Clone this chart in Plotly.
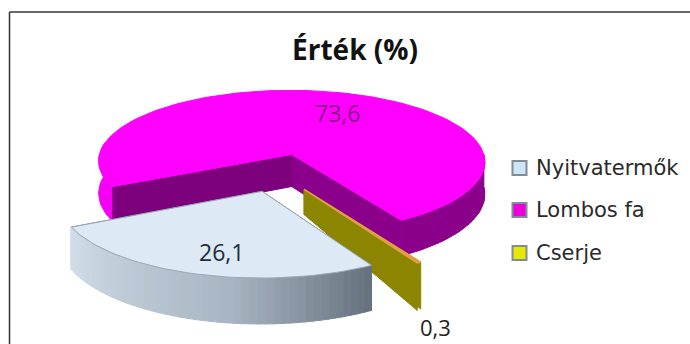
import math
import plotly.graph_objects as go

CATEGORIES = ["Nyitvatermők", "Lombos fa", "Cserje"]
VALUES = [26.1, 73.6, 0.3]
TOP_COLORS = ["#dde9f5", "#ff00ff", "#e0a040"]
LEGEND_COLORS = ["#cfe4f5", "#f000d8", "#e8e800"]
TITLE = "Érték (%)"

# Projection of the tilted pie onto the 690x344 canvas
CX, CY = 277.5, 172.5
RX, RY = 197.0, 74.0
PERSP = 0.10
EXPLODE = 0.26
FIRST_ANGLE = 150.0


def project(x, y, z=0.0, depth=(0.0, 0.0)):
    w = 1.0 / (1.0 - PERSP * y)
    wz = 1.0 / (1.0 - depth[1] * y)
    return CX + RX * x * w, CY + RY * y * w + depth[0] * z * wz


def rim(theta, offset):
    t = math.radians(theta)
    return math.sin(t) + offset[0], -math.cos(t) + offset[1]


def mix(c1, c2, f):
    a = [int(c1[i:i + 2], 16) for i in (1, 3, 5)]
    b = [int(c2[i:i + 2], 16) for i in (1, 3, 5)]
    return "rgb(%d,%d,%d)" % tuple(round(p + (q - p) * f) for p, q in zip(a, b))


def poly(fig, pts, color, line=None, width=1.0):
    fig.add_trace(go.Scatter(
        x=[p[0] for p in pts] + [pts[0][0]],
        y=[p[1] for p in pts] + [pts[0][1]],
        mode="lines", fill="toself", fillcolor=color,
        line=dict(color=line or color, width=width),
        hoverinfo="skip", showlegend=False))


# Slice angle spans, running clockwise from the first-slice angle
spans = []
start = FIRST_ANGLE
for v in VALUES:
    end = start + v * 3.6
    spans.append((start, end))
    start = end


def offset_of(span):
    mid = math.radians((span[0] + span[1]) / 2)
    return EXPLODE * math.sin(mid), -EXPLODE * math.cos(mid)


def wall(fig, span, off, depth, color, line=None):
    n = max(1, int((span[1] - span[0]) / 2))
    ts = [span[0] + (span[1] - span[0]) * i / n for i in range(n + 1)]
    upper = [project(*rim(t, off)) for t in ts]
    lower = [project(*rim(t, off), 1, depth) for t in reversed(ts)]
    poly(fig, upper + lower, color, line=line)


def faces(fig, span, off, depth, color_a, color_b):
    a, b = rim(span[0], off), rim(span[1], off)
    poly(fig, [project(*off), project(*b), project(*b, 1, depth), project(*off, 1, depth)], color_b)
    poly(fig, [project(*off), project(*a), project(*a, 1, depth), project(*off, 1, depth)], color_a)


def top(fig, span, off, color, line=None, width=1.0):
    n = max(1, int((span[1] - span[0]) / 2))
    pts = [project(*rim(span[0] + (span[1] - span[0]) * i / n, off)) for i in range(n + 1)]
    poly(fig, [project(*off)] + pts, color, line=line, width=width)


fig = go.Figure()

# Lombos fa: two cut faces, bright left wall, dark right wall
sp = spans[1]
off = offset_of(sp)
depth = (33.0, 0.12)
faces(fig, sp, off, depth, "#7d007d", "#8a008a")
wall(fig, (sp[0], 280), off, depth, "#f400f4")
wall(fig, (450, sp[1]), off, depth, "#8a008a")
top(fig, sp, off, TOP_COLORS[1])

# Cserje: the thin olive sliver
sp = spans[2]
off = offset_of(sp)
depth = (22.3, 0.486)
faces(fig, sp, off, depth, "#8c8500", "#8c8500")
top(fig, sp, off, TOP_COLORS[2], width=1.5)

# Nyitvatermők: outer wall shaded from dark (right) to light (left)
sp = spans[0]
off = offset_of(sp)
depth = (39.0, 0.12)
faces(fig, sp, off, depth, "#6d7985", "#6d7985")
steps = int((sp[1] - sp[0]) / 2)
for i in range(steps):
    t0 = sp[0] + (sp[1] - sp[0]) * i / steps
    t1 = sp[0] + (sp[1] - sp[0]) * (i + 1) / steps
    f = i / (steps - 1)
    shade = mix("#66727e", "#a8b5c2", f / 0.4) if f < 0.4 else mix("#a8b5c2", "#d0dce8", (f - 0.4) / 0.6)
    wall(fig, (t0, t1 + 0.3), off, depth, shade)
top(fig, sp, off, TOP_COLORS[0], line="#9aa7b4", width=1.0)

# Legend swatches and their captions
legend_y = [168, 210, 253]
fig.add_trace(go.Scatter(
    x=[519.5] * 3, y=legend_y, mode="markers", hoverinfo="skip", showlegend=False,
    marker=dict(symbol="square", size=14, color=LEGEND_COLORS,
                line=dict(color="#7f8c99", width=2))))
annotations = [
    dict(x=534, y=y, xref="x", yref="y", text=name, xanchor="left", showarrow=False,
         font=dict(family="DejaVu Sans", size=21, color="#2a2a2a"))
    for name, y in zip(CATEGORIES, legend_y)
]

# Data labels
label_pos = [(221, 252, "#1f2d3a", 23), (337, 113, "#8a1a8a", 23), (435, 327, "#222222", 22)]
annotations += [
    dict(x=x, y=y, xref="x", yref="y", text=f"{v:.1f}".replace(".", ","),
         showarrow=False, font=dict(family="Open Sans", size=s, color=c))
    for v, (x, y, c, s) in zip(VALUES, label_pos)
]

fig.update_layout(
    width=690, height=344, margin=dict(l=0, r=0, t=0, b=0),
    paper_bgcolor="white", plot_bgcolor="white",
    xaxis=dict(range=[0, 690], visible=False, fixedrange=True),
    yaxis=dict(range=[344, 0], visible=False, fixedrange=True),
    title=dict(text=TITLE, x=355 / 690, y=1 - 50 / 344, xanchor="center", yanchor="middle",
               font=dict(family="Open Sans", size=28, color="#111111", weight="bold")),
    annotations=annotations,
    shapes=[
        dict(type="line", xref="paper", yref="paper", x0=9.5 / 690, x1=1, y0=1 - 12 / 344, y1=1 - 12 / 344,
             line=dict(color="#333333", width=1.5)),
        dict(type="line", xref="paper", yref="paper", x0=9.5 / 690, x1=9.5 / 690, y0=0, y1=1 - 12 / 344,
             line=dict(color="#333333", width=1.5)),
    ],
)
fig.write_html("out.html")
